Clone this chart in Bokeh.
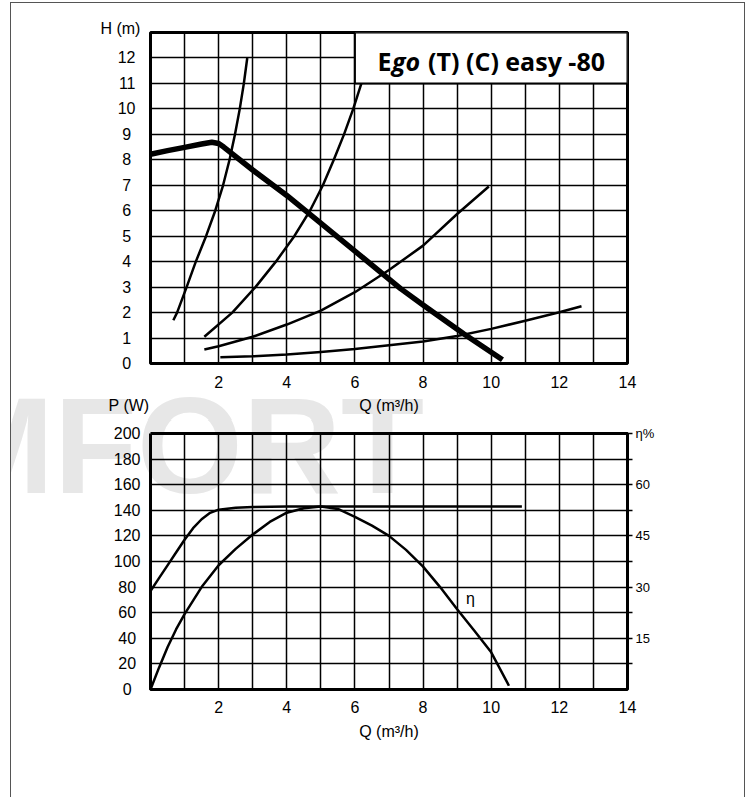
from bokeh.plotting import figure
from bokeh.models import FixedTicker, Label, Range1d, LinearAxis
from bokeh.layouts import column
from bokeh.embed import file_html
from bokeh.resources import INLINE
from bokeh.core.properties import value

FONT = "Liberation Sans"
TITLE_FONT = "Open Sans"

# ---------------- top chart: head H (m) against flow Q (m3/h) ----------------
pump_q = [0.0, 0.5, 1.0, 1.5, 1.8, 2.0, 2.15, 3.0, 4.0, 4.79, 6.16, 7.34, 8.0, 9.2, 10.33]
pump_h = [8.22, 8.36, 8.49, 8.62, 8.69, 8.64, 8.50, 7.60, 6.60, 5.74, 4.24, 2.94, 2.30, 1.16, 0.15]

sys1_q = [0.67, 0.78, 1.06, 1.33, 1.63, 1.90, 2.13, 2.32, 2.48, 2.62, 2.74, 2.84]
sys1_h = [1.7, 2.0, 3.0, 4.0, 5.0, 6.0, 7.0, 8.0, 9.0, 10.0, 11.0, 12.0]

sys2_q = [1.58, 2.4, 3.08, 3.68, 4.22, 4.68, 5.06, 5.38, 5.68, 5.95, 6.19]
sys2_h = [1.05, 2.0, 3.0, 4.0, 5.0, 6.0, 7.0, 8.0, 9.0, 10.0, 11.0]

sys3_q = [1.58, 2.0, 3.0, 4.0, 5.0, 6.0, 7.0, 8.0, 9.0, 9.93]
sys3_h = [0.55, 0.68, 1.05, 1.53, 2.08, 2.80, 3.67, 4.63, 5.87, 6.95]

sys4_q = [2.05, 3.0, 4.0, 5.0, 6.0, 7.0, 8.0, 9.0, 10.0, 11.0, 12.0, 12.65]
sys4_h = [0.25, 0.28, 0.35, 0.45, 0.57, 0.72, 0.86, 1.08, 1.36, 1.68, 2.01, 2.25]

q_ticks = [2, 4, 6, 8, 10, 12, 14]
h_ticks = list(range(0, 13))

# ---------------- bottom chart: power P (W) and efficiency eta (%) ----------------
power_q = [0.0, 0.25, 0.5, 0.75, 1.0, 1.25, 1.5, 1.75, 2.0, 2.5, 3.0, 4.0, 10.9]
power_w = [77, 87, 97, 107, 117, 126, 133, 138, 140.5, 142, 142.6, 143, 143]

eff_q = [0.0, 0.25, 0.5, 0.75, 1.0, 1.5, 2.0, 2.5, 3.0, 3.5, 4.0, 4.5, 5.0, 5.5, 6.0,
         6.5, 7.0, 7.5, 8.0, 8.5, 9.0, 9.5, 10.0, 10.52]
eff_pct = [0.0, 6.4, 12.4, 17.6, 22.1, 30.0, 36.4, 41.2, 45.4, 49.1, 51.8, 53.1, 53.6, 52.9, 50.6,
           48.0, 45.0, 40.9, 36.0, 30.0, 23.5, 17.3, 10.9, 1.1]

p_ticks = list(range(0, 201, 20))
eta_ticks = [7.5 * i for i in range(1, 11)]
eta_labels = {7.5 * i: "" for i in range(1, 11)}
eta_labels.update({15.0: "15", 30.0: "30", 45.0: "45", 60.0: "60", 75.0: "\u03b7%"})

title_parts = ["E", "go", " (T) (C) easy -80"]
watermark = "MFORT"
WM_COLOR = "#e7e7e7"


def centered_labels(ticks):
    width = max(len(str(t)) for t in ticks)
    return {t: str(t) + "\u2008" * (width - len(str(t))) for t in ticks}


def style_axis(ax, standoff):
    ax.axis_line_color = None
    ax.major_tick_line_color = None
    ax.minor_tick_line_color = None
    ax.major_tick_in = 0
    ax.major_tick_out = 0
    ax.minor_tick_in = 0
    ax.minor_tick_out = 0
    ax.major_label_standoff = standoff
    ax.major_label_text_font = FONT
    ax.major_label_text_font_size = "16px"
    ax.major_label_text_color = "black"
    ax.axis_label_text_font = FONT
    ax.axis_label_text_font_size = "16px"
    ax.axis_label_text_font_style = "normal"
    ax.axis_label_text_color = "black"


def style_frame(p):
    p.outline_line_color = "black"
    p.outline_line_width = 3
    p.outline_line_alpha = 1
    p.background_fill_color = "white"
    p.border_fill_color = "white"
    p.xgrid.ticker = FixedTicker(ticks=list(range(1, 14)))
    for g in (p.xgrid, p.ygrid):
        g.grid_line_color = "black"
        g.grid_line_width = 1.5
        g.grid_line_alpha = 1


def add_text(p, x, y, txt, size="16px", align="left", baseline="middle",
             style="normal", color="black", level="overlay"):
    r = p.text(x=[x], y=[y], text=[txt], text_font=value(FONT), text_font_size=size,
               text_font_style=style, text_color=color, text_align=align,
               text_baseline=baseline)
    r.level = level
    return r


def title_label(x, txt, style, align):
    return Label(x=x, y=11.9, text=txt, text_font=TITLE_FONT, text_font_size="25px",
                 text_font_style=style, text_color="black", text_align=align,
                 text_baseline="middle")


# ---------------- top figure ----------------
top = figure(width=733, height=417, x_range=Range1d(0, 14), y_range=Range1d(0, 13),
             output_backend="svg", toolbar_location=None, title=None,
             min_border_left=139, min_border_right=117, min_border_top=29, min_border_bottom=57)
style_frame(top)
top.ygrid.ticker = FixedTicker(ticks=list(range(1, 13)))
top.xaxis.ticker = FixedTicker(ticks=q_ticks)
top.yaxis.ticker = FixedTicker(ticks=h_ticks)
top.yaxis.major_label_overrides = centered_labels(h_ticks)
style_axis(top.xaxis[0], 12)
style_axis(top.yaxis[0], 15)
top.xaxis.axis_label = "Q (m\u00b3/h)"
top.xaxis.axis_label_standoff = 6

# watermark (upper slice, below the top frame)
add_text(top, 8.03, -3.22, watermark, size="136px", align="right", baseline="middle",
         style="bold", color=WM_COLOR, level="guide")

top.line(sys1_q, sys1_h, line_width=2.5, color="black", line_join="round")
top.line(sys2_q, sys2_h, line_width=2.5, color="black", line_join="round")
top.line(sys3_q, sys3_h, line_width=2.5, color="black", line_join="round")
top.line(sys4_q, sys4_h, line_width=2.5, color="black", line_join="round")
top.line(pump_q, pump_h, line_width=5.5, color="black", line_join="round")

# title box
top.quad(left=[6], right=[14], bottom=[11], top=[13], fill_color="white",
         line_color="black", line_width=2)
top.add_layout(title_label(6.663, title_parts[0], "bold", "left"))
top.add_layout(title_label(7.09, title_parts[1], "bold italic", "left"))
top.add_layout(title_label(13.53, title_parts[2], "bold", "right"))

# axis names placed above the value axes
add_text(top, -1.47, 13.16, "H (m)")
add_text(top, -1.23, -1.65, "P (W)")

# ---------------- bottom figure ----------------
bot = figure(width=733, height=377, x_range=Range1d(0, 14), y_range=Range1d(0, 200),
             output_backend="svg", toolbar_location=None, title=None,
             min_border_left=139, min_border_right=117, min_border_top=13, min_border_bottom=108)
bot.extra_y_ranges = {"eta": Range1d(0, 75)}
style_frame(bot)
bot.xgrid.level = "annotation"
bot.ygrid.level = "annotation"
bot.ygrid.ticker = FixedTicker(ticks=p_ticks[1:-1])
bot.xaxis.ticker = FixedTicker(ticks=q_ticks)
bot.yaxis.ticker = FixedTicker(ticks=p_ticks)
bot.yaxis.major_label_overrides = centered_labels(p_ticks)
style_axis(bot.xaxis[0], 11)
style_axis(bot.yaxis[0], 10)
bot.yaxis.axis_line_color = "black"
bot.yaxis.axis_line_width = 3
bot.xaxis.axis_label = "Q (m\u00b3/h)"
bot.xaxis.axis_label_standoff = 7

top_edge = LinearAxis(ticker=FixedTicker(ticks=[]))
style_axis(top_edge, 0)
top_edge.axis_line_color = "black"
top_edge.axis_line_width = 3
bot.add_layout(top_edge, "above")

right = LinearAxis(y_range_name="eta", ticker=FixedTicker(ticks=eta_ticks))
style_axis(right, 3)
right.major_label_overrides = eta_labels
right.major_tick_line_color = "black"
right.major_tick_line_width = 1.5
right.major_tick_out = 5
right.major_label_text_font_size = "13px"
bot.add_layout(right, "right")

# watermark (lower slice)
add_text(bot, 8.03, 190.6, watermark, size="136px", align="right", baseline="middle",
         style="bold", color=WM_COLOR, level="guide")

bot.line(power_q, power_w, line_width=2.5, color="black", line_join="round")
bot.line(eff_q, eff_pct, y_range_name="eta", line_width=2.5, color="black", line_join="round")
bot.add_layout(Label(x=9.39, y=26.6, y_range_name="eta", text="\u03b7", text_font=FONT,
                     text_font_size="16px", text_color="black", text_align="center",
                     text_baseline="middle"))

layout = column(top, bot, margin=(2, 0, 0, 10),
                styles={"border-top": "1px solid #555", "border-left": "1px solid #555",
                        "border-right": "1px solid #555"})

open("out.html", "w").write(file_html(layout, INLINE))
